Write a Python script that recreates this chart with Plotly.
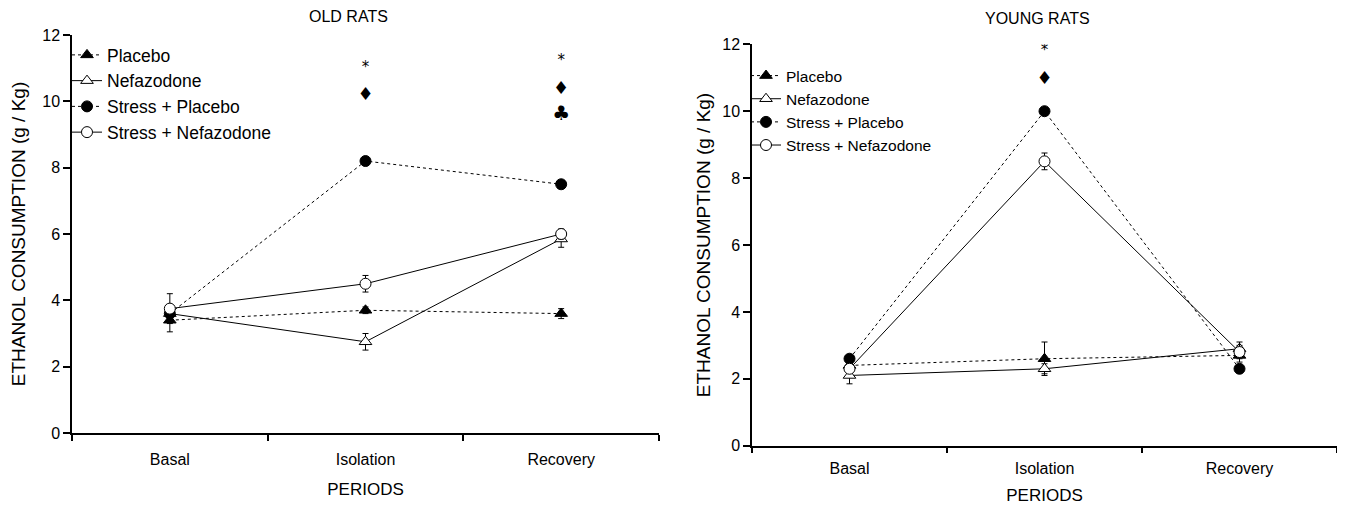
import plotly.graph_objects as go

periods = ["Basal", "Isolation", "Recovery"]
series_names = ["Placebo", "Nefazodone", "Stress + Placebo", "Stress + Nefazodone"]

# OLD RATS
old_placebo = [3.4, 3.7, 3.6]
old_nefazodone = [3.6, 2.75, 5.85]
old_stress_placebo = [3.6, 8.2, 7.5]
old_stress_nefazodone = [3.75, 4.5, 6.0]
old_err_placebo = [0.35, 0.1, 0.15]
old_err_nefazodone = [0.1, 0.25, 0.25]
old_err_stress_placebo = [0.1, 0.1, 0.1]
old_err_stress_nefazodone = [0.45, 0.25, 0.15]

# YOUNG RATS
young_placebo = [2.4, 2.6, 2.7]
young_nefazodone = [2.1, 2.3, 2.9]
young_stress_placebo = [2.6, 10.0, 2.3]
young_stress_nefazodone = [2.3, 8.5, 2.8]
young_err_placebo = [0.1, 0.5, 0.1]
young_err_nefazodone = [0.25, 0.15, 0.1]
young_err_stress_placebo = [0.1, 0.1, 0.1]
young_err_stress_nefazodone = [0.1, 0.25, 0.3]

# significance symbols
old_sig_x = ["Isolation", "Isolation", "Recovery", "Recovery", "Recovery"]
old_sig_y = [11.0, 10.18, 11.2, 10.36, 9.6]
old_sig_text = ["*", "♦", "*", "♦", "♣"]
young_sig_x = ["Isolation", "Isolation"]
young_sig_y = [11.78, 10.95]
young_sig_text = ["*", "♦"]

FONT = "Liberation Sans, Arial, sans-serif"
SIG_SIZE = {"*": 15, "♦": 18, "♣": 20}

styles = [
    dict(dash="dot", symbol="triangle-up", fill="black"),
    dict(dash="solid", symbol="triangle-up", fill="white"),
    dict(dash="dot", symbol="circle", fill="black"),
    dict(dash="solid", symbol="circle", fill="white"),
]

fig = go.Figure()

panels = [
    ("x", "y", "legend", [old_placebo, old_nefazodone, old_stress_placebo, old_stress_nefazodone],
     [old_err_placebo, old_err_nefazodone, old_err_stress_placebo, old_err_stress_nefazodone]),
    ("x2", "y2", "legend2", [young_placebo, young_nefazodone, young_stress_placebo, young_stress_nefazodone],
     [young_err_placebo, young_err_nefazodone, young_err_stress_placebo, young_err_stress_nefazodone]),
]

for xa, ya, lg, vals, errs in panels:
    for name, v, e, st in zip(series_names, vals, errs, styles):
        fig.add_trace(go.Scatter(
            x=periods, y=v, name=name, xaxis=xa, yaxis=ya, legend=lg,
            mode="lines+markers",
            line=dict(color="black", width=1, dash=st["dash"]),
            marker=dict(symbol=st["symbol"], size=11, color=st["fill"],
                        line=dict(color="black", width=1)),
            error_y=dict(type="data", array=e, visible=True, color="black",
                         thickness=1, width=3),
        ))

fig.add_trace(go.Scatter(x=old_sig_x, y=old_sig_y, text=old_sig_text, mode="text",
                         textfont=dict(size=[SIG_SIZE[t] for t in old_sig_text],
                                       color="black", family="DejaVu Sans"),
                         xaxis="x", yaxis="y", showlegend=False, hoverinfo="skip"))
fig.add_trace(go.Scatter(x=young_sig_x, y=young_sig_y, text=young_sig_text, mode="text",
                         textfont=dict(size=[SIG_SIZE[t] for t in young_sig_text],
                                       color="black", family="DejaVu Sans"),
                         xaxis="x2", yaxis="y2", showlegend=False, hoverinfo="skip"))

W, H = 1345, 505
OFF = 8  # page body margin

def px_x(a):
    return (a - OFF) / W

def px_y(b):
    return 1 - (b - OFF) / H

def xdom(a, b):
    return [px_x(a), px_x(b)]

def ydom(bottom, top):
    return [px_y(bottom), px_y(top)]

xcommon = dict(type="category", categoryorder="array", categoryarray=periods,
               range=[-0.5, 2.5], tickson="boundaries", ticks="outside", ticklen=6,
               tickcolor="black", tickwidth=1.5, showline=True, linecolor="black",
               linewidth=1.5, showgrid=False, zeroline=False, automargin=False,
               tickfont=dict(family=FONT, size=16, color="black"))
ycommon = dict(range=[0, 12], dtick=2, ticks="outside", ticklen=7, tickcolor="black",
               tickwidth=1.5, showline=True, linecolor="black", linewidth=1.5,
               showgrid=False, zeroline=False, automargin=False,
               tickfont=dict(family=FONT, size=16, color="black"))

fig.update_layout(
    width=W, height=H,
    margin=dict(l=0, r=0, t=0, b=0, autoexpand=False),
    paper_bgcolor="white", plot_bgcolor="white",
    font=dict(family=FONT, color="black"),
    xaxis=dict(domain=xdom(72, 659), anchor="y", ticklabelstandoff=11,
               title=dict(text="PERIODS", font=dict(size=17), standoff=16), **xcommon),
    yaxis=dict(domain=ydom(433, 35), anchor="x",
               title=dict(text="ETHANOL CONSUMPTION (g / Kg)", font=dict(size=19), standoff=14),
               **ycommon),
    xaxis2=dict(domain=xdom(752, 1337), anchor="y2", ticklabelstandoff=7,
                title=dict(text="PERIODS", font=dict(size=17), standoff=13), **xcommon),
    yaxis2=dict(domain=ydom(445.7, 44.3), anchor="x2",
                title=dict(text="ETHANOL CONSUMPTION (g / Kg)", font=dict(size=19), standoff=7),
                **ycommon),
    legend=dict(x=px_x(67), y=px_y(37), xanchor="left", yanchor="top",
                bgcolor="rgba(0,0,0,0)", borderwidth=0,
                font=dict(family=FONT, size=17.5, color="black")),
    legend2=dict(x=px_x(746), y=px_y(59), xanchor="left", yanchor="top",
                 bgcolor="rgba(0,0,0,0)", borderwidth=0,
                 font=dict(family=FONT, size=15.5, color="black")),
    annotations=[
        dict(text="OLD RATS", x=px_x(348), y=px_y(16), xref="paper", yref="paper",
             showarrow=False, font=dict(size=16), xanchor="center", yanchor="middle"),
        dict(text="YOUNG RATS", x=px_x(1037), y=px_y(18), xref="paper", yref="paper",
             showarrow=False, font=dict(size=16), xanchor="center", yanchor="middle"),
    ],
)

fig.write_html("out.html")
